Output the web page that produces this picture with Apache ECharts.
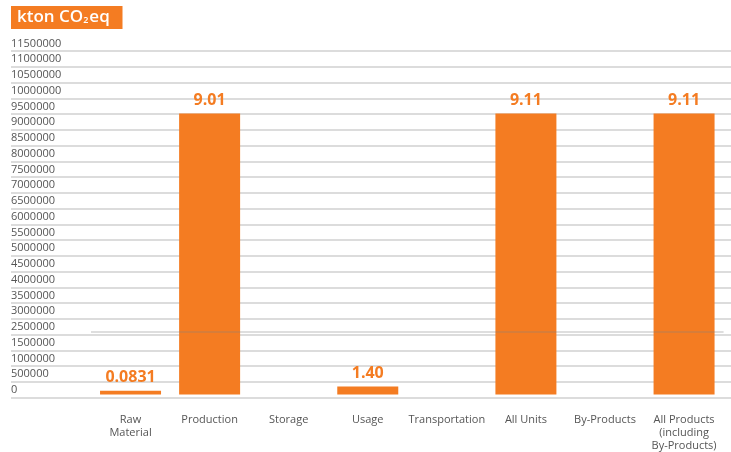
<!DOCTYPE html>
<html>
<head>
<meta charset="utf-8">
<script src="https://cdn.jsdelivr.net/npm/echarts@6/dist/echarts.min.js"></script>
<style>
html,body{margin:0;padding:0;background:#fff;}
#chart{width:731px;height:452px;}
</style>
</head>
<body>
<div id="chart"></div>
<script>
// ---- data ----
var categories = ['Raw\nMaterial', 'Production', 'Storage', 'Usage', 'Transportation', 'All Units', 'By-Products', 'All Products\n(including\nBy-Products)'];
// bar heights as drawn on the axis
var barValues = [120000, 9000000, 0, 260000, 0, 9000000, 0, 9000000];
// value labels printed above the bars
var barLabels = ['0.0831', '9.01', '', '1.40', '', '9.11', '', '9.11'];
// tick labels as printed on the axis (bottom to top)
var tickLabels = ['0', '500000', '1000000', '1500000', '2500000', '3000000', '3500000', '4000000', '4500000',
  '5000000', '5500000', '6000000', '6500000', '7000000', '7500000', '8000000', '8500000', '9000000',
  '9500000', '10000000', '10500000', '11000000', '11500000'];
var overlayLineValue = 2000000;

var ORANGE = '#F47C22';
var FONT = 'Open Sans';
var chart = echarts.init(document.getElementById('chart'), null, {renderer: 'canvas'});
var yMax = (tickLabels.length - 1) * 500000;

chart.setOption({
  animation: false,
  textStyle: {fontFamily: FONT},
  graphic: [
    {type: 'rect', shape: {x: 11, y: 6, width: 111.5, height: 23}, style: {fill: ORANGE}, z: 10},
    {type: 'text', x: 17, y: 17.5, z: 11,
      style: {
        text: 'kton CO{sub|2}eq', fill: '#fff', font: '600 17px "Open Sans"', verticalAlign: 'middle',
        rich: {sub: {fontSize: 9, fill: '#fff', fontWeight: 600, fontFamily: FONT, padding: [6, 1, 0, 0]}}
      }}
  ],
  grid: [
    {left: 11, right: 0, top: 51, bottom: 54.5},
    {left: 91, right: 7.4, top: 51, bottom: 54.5}
  ],
  xAxis: [
    {type: 'category', gridIndex: 0, data: [''], show: false},
    {type: 'category', gridIndex: 1, data: categories,
      axisLine: {show: false}, axisTick: {show: false},
      axisLabel: {color: '#555', fontSize: 11, lineHeight: 13, margin: 18.5, interval: 0, fontFamily: FONT}}
  ],
  yAxis: [
    {type: 'value', gridIndex: 0, min: 0, max: yMax, interval: 500000,
      axisLine: {show: false}, axisTick: {show: false},
      splitLine: {lineStyle: {color: '#d0d0d0', width: 1.5}},
      axisLabel: {inside: true, margin: 0, verticalAlign: 'bottom', lineHeight: 13, padding: [0, 0, 1, 0],
        color: '#555', fontSize: 11, fontFamily: FONT,
        formatter: function (v) { return tickLabels[Math.round(v / 500000)]; }}},
    {type: 'value', gridIndex: 1, min: 0, max: yMax, interval: 500000, show: false, splitLine: {show: false}}
  ],
  series: [{
    type: 'bar', xAxisIndex: 1, yAxisIndex: 1,
    data: barValues,
    barWidth: 61,
    itemStyle: {color: ORANGE},
    label: {show: true, position: 'top', distance: 5, color: ORANGE, fontSize: 16, fontWeight: 'bold', fontFamily: FONT,
      formatter: function (p) { return barLabels[p.dataIndex]; }},
    markLine: {
      silent: true, symbol: 'none', label: {show: false},
      lineStyle: {color: 'rgba(128,128,128,0.35)', width: 1.5, type: 'solid'},
      data: [{yAxis: overlayLineValue}]
    }
  }]
});
</script>
</body>
</html>
